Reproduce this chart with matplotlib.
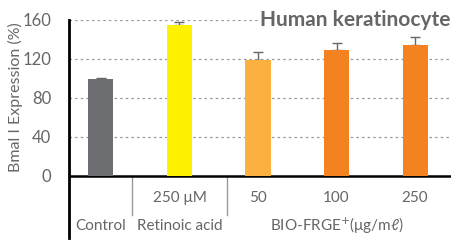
import matplotlib
matplotlib.use("Agg")
import matplotlib.pyplot as plt
from matplotlib.lines import Line2D

plt.rcParams['font.family'] = ['Lato', 'DejaVu Sans']

# data
groups = ['Control', 'Retinoic acid', '50', '100', '250']
values = [98.7, 154.6, 119.0, 129.4, 134.5]
errors = [1.6, 3.5, 8.0, 7.0, 7.5]
colors = ['#6d6e71', '#fff200', '#fbb040', '#f58220', '#f58220']
yticks = [0, 40, 80, 120, 160]
upper_labels = ['', '250 μM', '50', '100', '250']

fig = plt.figure(figsize=(4.52, 2.41), dpi=100)
ax = fig.add_axes([69.5 / 452, (241 - 175.7) / 241, 1 - 69.5 / 452, 156 / 241])

x = list(range(len(values)))
ax.bar(x, values, width=0.32, color=colors, zorder=3)
ax.errorbar(x, values, yerr=[[0] * len(errors), errors], fmt='none',
            ecolor='#666666', elinewidth=1.0, capsize=3.5, capthick=1.0, zorder=2)

ax.set_xlim(-0.40, 4.47)
ax.set_ylim(0, 160)
ax.set_yticks(yticks)
ax.set_yticklabels([str(t) for t in yticks], fontsize=12, color='#666666')
ax.tick_params(axis='y', length=0, pad=13)
ax.set_xticks([])
for t in yticks[1:]:
    ax.axhline(t, color='#999999', linestyle=(0, (2, 2.5)), linewidth=0.9, zorder=1)

for s in ['top', 'right']:
    ax.spines[s].set_visible(False)
ax.spines['bottom'].set_linewidth(1.8)
ax.spines['left'].set_visible(False)
# left axis extends below the plot area
ax.add_line(Line2D([0, 0], [1, -0.40], transform=ax.transAxes, color='black',
                   linewidth=2.0, clip_on=False))

# y label placed by hand, centred at about x=15 px
fig.text(15 / 452, 1 - 97 / 241, 'Bmal I Expression (%)', rotation=90,
         ha='center', va='center', fontsize=11.5, color='#666666')

# category separators below the axis
sep_y = -(215 - 175.7) / 156
for sx in [0.40, 1.60]:
    ax.add_line(Line2D([sx, sx], [0, sep_y * 160], color='#999999', linewidth=1.0,
                       clip_on=False))

upper_y = -(198 - 175.7) / 0.975
lower_y = -(226 - 175.7) / 0.975
for xi, lab in zip(x, upper_labels):
    if lab:
        ax.text(xi, upper_y, lab, ha='center', va='center', fontsize=11,
                color='#666666', clip_on=False)
ax.text(0, lower_y, 'Control', ha='center', va='center', fontsize=11,
        color='#666666', clip_on=False)
ax.text(1, lower_y, 'Retinoic acid', ha='center', va='center', fontsize=11,
        color='#666666', clip_on=False)
ax.text(3, lower_y, 'BIO-FRGE$^{+}$(μg/mℓ)', ha='center', va='center', fontsize=11,
        color='#666666', clip_on=False)

ax.text(0.997, 1.0, 'Human keratinocyte', transform=ax.transAxes, ha='right',
        va='center', fontsize=15, fontweight='bold', color='#666666', zorder=4,
        bbox=dict(facecolor='white', edgecolor='none', pad=1))

fig.savefig('out.png', dpi=100)
